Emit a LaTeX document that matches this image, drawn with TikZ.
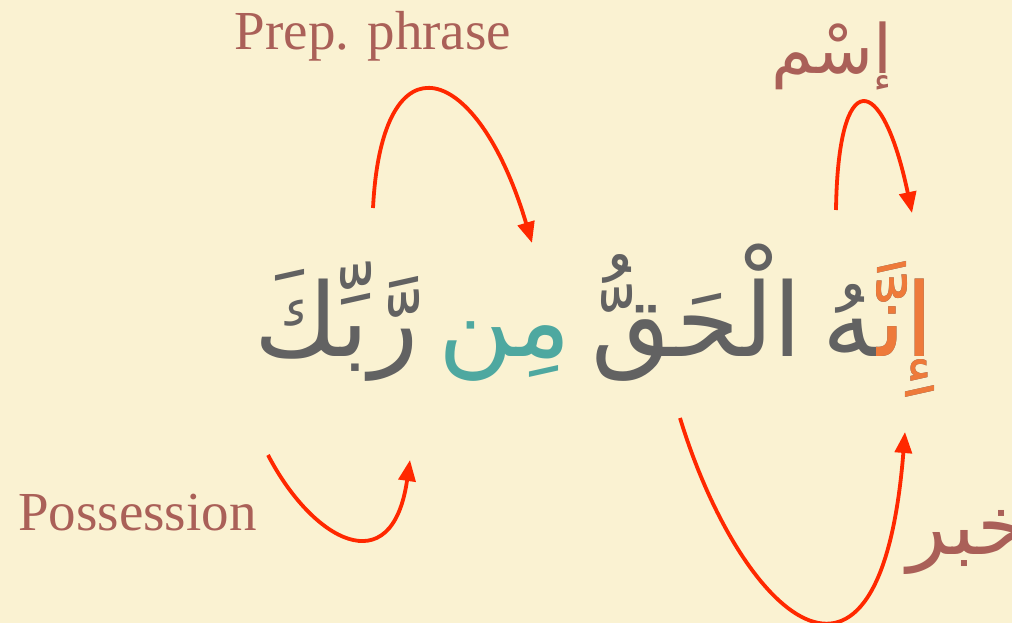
\documentclass[tikz,border=0pt]{standalone}
\usepackage{fontspec}
\usetikzlibrary{arrows.meta}
\setmainfont{Liberation Serif}
\newfontfamily\arabicfont[Script=Arabic]{DejaVu Sans}
\TeXXeTstate=1
\definecolor{bgcream}{RGB}{250,242,210}
\definecolor{labelbrown}{RGB}{170,96,88}
\definecolor{arrowred}{RGB}{255,40,0}
\definecolor{wordgray}{RGB}{98,98,98}
\definecolor{wordorange}{RGB}{238,122,58}
\definecolor{wordteal}{RGB}{78,168,160}
\tikzset{
  lbl/.style={text=labelbrown, inner sep=0pt},
  arlbl/.style={text=labelbrown, inner sep=0pt, font=\arabicfont\fontsize{68}{68}\selectfont},
  word/.style={inner sep=0pt, anchor=base east, text=wordgray, font=\arabicfont\fontsize{102}{102}\selectfont},
  arr/.style={draw=arrowred, line width=3.8pt, -{Triangle[length=21pt,width=17pt]}}
}
\begin{document}
\begin{tikzpicture}[x=1pt,y=-1pt]
\fill[bgcream] (0,0) rectangle (1012,623);
\useasboundingbox (0,0) rectangle (1012,623);
% main sentence, word by word (right to left)
\node[word] (w1) at (934,356) {\beginR إِنَّهُ\endR};
\node[word, text=wordorange] (w1a) at (w1.base east) {\beginR إِنَّ‍\endR};
\node[word] (w2) at ([xshift=-20pt]w1.base west) {\beginR الْحَقُّ\endR};
\node[word, text=wordteal] (w3) at ([xshift=-20pt]w2.base west) {\beginR مِن\endR};
\node[word] (w4) at ([xshift=-20pt]w3.base west) {\beginR رَّبِّكَ\endR};
% labels
\node[lbl, anchor=base, font=\fontsize{55}{55}\selectfont] (prep) at (373,50) {Prep. phrase};
\node[lbl, anchor=base west, font=\fontsize{55}{55}\selectfont] (poss) at (18,530) {Possession};
\node[arlbl, anchor=base] (ism) at (832,74) {\beginR إسْم\endR};
\node[arlbl, anchor=base west, font=\arabicfont\fontsize{82}{82}\selectfont] (khabar) at (907,554) {\beginR خبر\endR};
% arrow end points
\coordinate (a1s) at (373,208); \coordinate (a1e) at (532,243);
\coordinate (a2s) at (836,210); \coordinate (a2e) at (912,213);
\coordinate (a3s) at (268,455); \coordinate (a3e) at (410,460);
\coordinate (a4s) at (680,418); \coordinate (a4e) at (905,432);
\draw[arr] (a1s) .. controls (382,30) and (478,62) .. (a1e);
\draw[arr] (a2s) .. controls (838,65) and (882,70) .. (a2e);
\draw[arr] (a3s) .. controls (312,540) and (392,585) .. (a3e);
\draw[arr] (a4s) .. controls (740,615) and (880,745) .. (a4e);
\end{tikzpicture}
\end{document}
